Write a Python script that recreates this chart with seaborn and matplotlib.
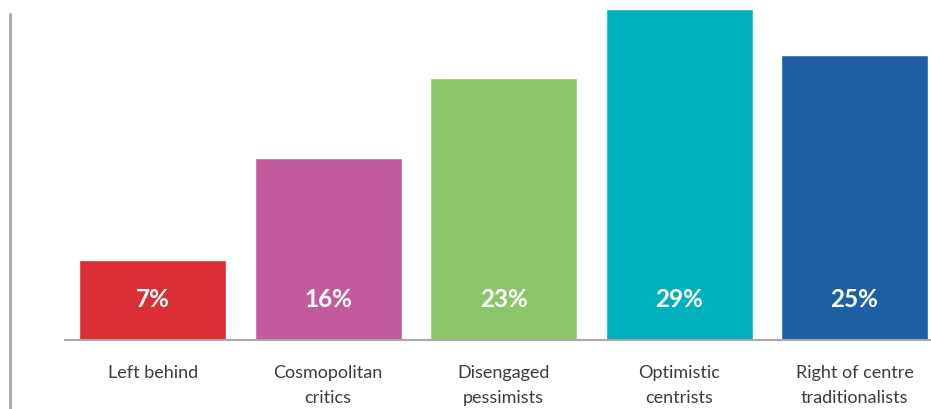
import matplotlib
matplotlib.use("Agg")
import matplotlib.pyplot as plt
from matplotlib.lines import Line2D
import seaborn as sns
import pandas as pd

categories = ["Left behind", "Cosmopolitan\ncritics", "Disengaged\npessimists",
              "Optimistic\ncentrists", "Right of centre\ntraditionalists"]
shares = [7, 16, 23, 29, 25]
colors = ["#D92E35", "#C45A9C", "#8CC66B", "#00B0BC", "#1E5FA3"]

df = pd.DataFrame({"segment": categories, "share": shares})

sns.set_theme(style="white")
plt.rcParams["font.family"] = ["Lato", "DejaVu Sans"]

fig = plt.figure(figsize=(9.31, 4.10), dpi=100)
ax = fig.add_axes([65 / 931, 69 / 410, 1 - 65 / 931, 341 / 410])

sns.barplot(data=df, x="segment", y="share", hue="segment", palette=colors,
            width=0.838, saturation=1, legend=False, ax=ax)

for i, v in enumerate(shares):
    ax.text(i, 3.6, f"{v}%", ha="center", va="center", color="white",
            fontsize=17.5, fontweight="bold")

ax.set_xlim(-0.5, 4.436)
ax.set_ylim(0, 29.92)
ax.set_xlabel("")
ax.set_ylabel("")
ax.set_yticks([])
ax.tick_params(axis="x", length=0, pad=17, labelsize=13, labelcolor="#3C3C3C")
for lbl in ax.get_xticklabels():
    lbl.set_linespacing(1.7)
for side in ["top", "right", "left"]:
    ax.spines[side].set_visible(False)
ax.spines["bottom"].set_color("#A8A8A8")
ax.spines["bottom"].set_linewidth(1.5)

# vertical rule on the left edge
fig.add_artist(Line2D([9.5 / 931, 9.5 / 931], [0, 1 - 15 / 410],
                      transform=fig.transFigure, color="#A8A8A8", linewidth=2))

fig.savefig("out.png", dpi=100)
